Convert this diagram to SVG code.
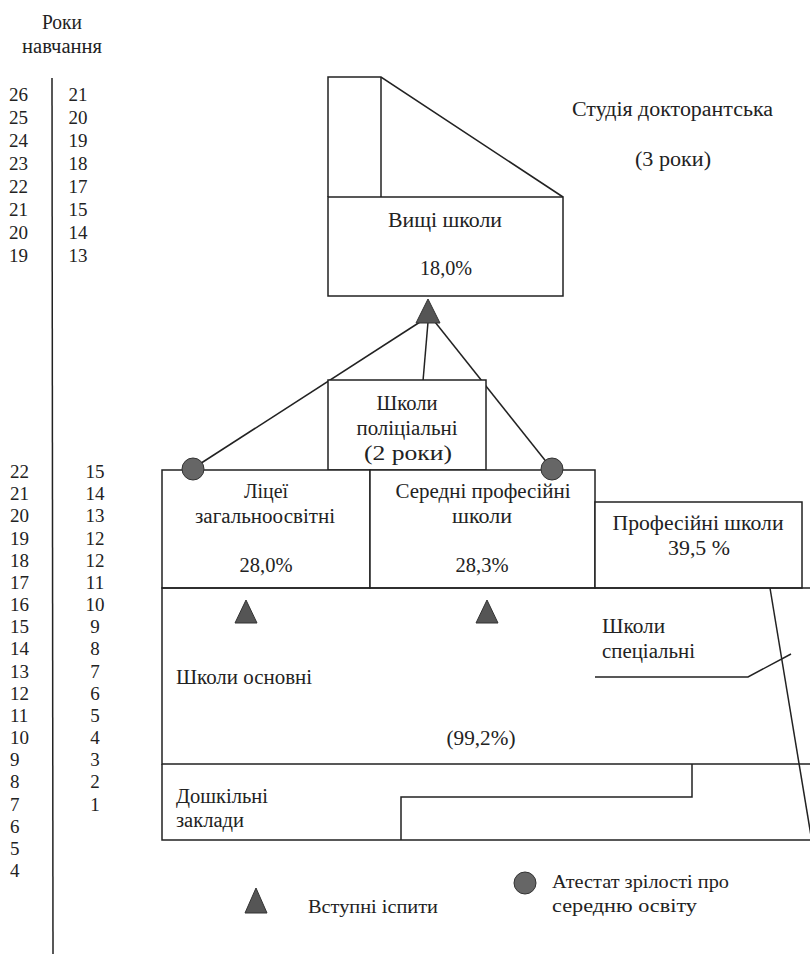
<svg xmlns="http://www.w3.org/2000/svg" width="810" height="954" viewBox="0 0 810 954" font-family="'Liberation Serif', 'Times New Roman', serif">
<style>
text{font-family:"Liberation Serif","Times New Roman",serif;fill:#222;}
.t{font-size:20px;}
.n{font-size:19px;}
.l{font-size:18px;}
.c{text-anchor:middle;}
.s{fill:none;stroke:#222;stroke-width:1.5;}
.b{fill:#fff;stroke:#222;stroke-width:1.5;}
.tri{fill:#555;stroke:#333;stroke-width:1;}
.dot{fill:#666;stroke:#333;stroke-width:1;}
</style>
<rect width="810" height="954" fill="#fff"/>

<g id="scale">
<text class="t c" x="62" y="29" textLength="40" lengthAdjust="spacingAndGlyphs">Роки</text>
<text class="t c" x="62" y="53" textLength="80" lengthAdjust="spacingAndGlyphs">навчання</text>
<line class="s" x1="52" y1="78" x2="53" y2="954"/>
<g class="n">
<text x="9" y="101">26</text><text x="9" y="124">25</text><text x="9" y="147">24</text><text x="9" y="170">23</text>
<text x="9" y="193">22</text><text x="9" y="216">21</text><text x="9" y="239">20</text><text x="9" y="262">19</text>
</g>
<g class="n c">
<text x="78" y="101">21</text><text x="78" y="124">20</text><text x="78" y="147">19</text><text x="78" y="170">18</text>
<text x="78" y="193">17</text><text x="78" y="216">15</text><text x="78" y="239">14</text><text x="78" y="262">13</text>
</g>
<g class="n">
<text x="10" y="478">22</text><text x="10" y="500">21</text><text x="10" y="522">20</text><text x="10" y="545">19</text>
<text x="10" y="567">18</text><text x="10" y="589">17</text><text x="10" y="611">16</text><text x="10" y="633">15</text>
<text x="10" y="655">14</text><text x="10" y="678">13</text><text x="10" y="700">12</text><text x="10" y="722">11</text>
<text x="10" y="744">10</text><text x="10" y="766">9</text><text x="10" y="788">8</text><text x="10" y="811">7</text>
<text x="10" y="833">6</text><text x="10" y="855">5</text><text x="10" y="877">4</text>
</g>
<g class="n c">
<text x="95" y="478">15</text><text x="95" y="500">14</text><text x="95" y="522">13</text><text x="95" y="545">12</text>
<text x="95" y="567">12</text><text x="95" y="589">11</text><text x="95" y="611">10</text><text x="95" y="633">9</text>
<text x="95" y="655">8</text><text x="95" y="678">7</text><text x="95" y="700">6</text><text x="95" y="722">5</text>
<text x="95" y="744">4</text><text x="95" y="766">3</text><text x="95" y="788">2</text><text x="95" y="811">1</text>
</g>
</g>

<g id="connectors">
<line class="s" x1="420" y1="322" x2="192" y2="469"/>
<line class="s" x1="428" y1="322" x2="423" y2="381"/>
<line class="s" x1="435" y1="322" x2="552" y2="469"/>
</g>

<g id="doctoral">
<polyline class="s" points="328,197 328,77 381,77 563,197"/>
<line class="s" x1="381" y1="77" x2="381" y2="197"/>
<text class="t" x="572" y="116" textLength="201" lengthAdjust="spacingAndGlyphs">Студія докторантська</text>
<text class="t c" x="673" y="166" textLength="76" lengthAdjust="spacingAndGlyphs">(3 роки)</text>
</g>

<g id="higher">
<rect class="b" x="328" y="197" width="235" height="99"/>
<text class="t c" x="445" y="227" textLength="114" lengthAdjust="spacingAndGlyphs">Вищі школи</text>
<text class="t c" x="446" y="275" textLength="52" lengthAdjust="spacingAndGlyphs">18,0%</text>
</g>

<g id="postsec">
<rect class="b" x="328" y="380" width="158" height="90"/>
<text class="t c" x="407" y="410" textLength="61" lengthAdjust="spacingAndGlyphs">Школи</text>
<text class="t c" x="407" y="435" textLength="101" lengthAdjust="spacingAndGlyphs">поліціальні</text>
<text class="t c" x="408" y="460" textLength="88" lengthAdjust="spacingAndGlyphs">(2 роки)</text>
</g>

<g id="lyceum">
<rect class="b" x="162" y="470" width="208" height="118"/>
<text class="t c" x="266" y="498" textLength="44" lengthAdjust="spacingAndGlyphs">Ліцеї</text>
<text class="t c" x="265" y="523" textLength="140" lengthAdjust="spacingAndGlyphs">загальноосвітні</text>
<text class="t c" x="266" y="572" textLength="53" lengthAdjust="spacingAndGlyphs">28,0%</text>
</g>

<g id="secondary-vocational">
<rect class="b" x="370" y="470" width="225" height="118"/>
<text class="t c" x="483" y="498" textLength="175" lengthAdjust="spacingAndGlyphs">Середні професійні</text>
<text class="t c" x="482" y="523" textLength="60" lengthAdjust="spacingAndGlyphs">школи</text>
<text class="t c" x="482" y="572" textLength="53" lengthAdjust="spacingAndGlyphs">28,3%</text>
</g>

<g id="vocational">
<rect class="b" x="595" y="502" width="207" height="86"/>
<text class="t c" x="698" y="530" textLength="171" lengthAdjust="spacingAndGlyphs">Професійні школи</text>
<text class="t c" x="699" y="555" textLength="62" lengthAdjust="spacingAndGlyphs">39,5 %</text>
</g>

<g id="basic">
<polyline class="s" points="812,588 162,588 162,764 812,764"/>
<text class="t" x="176" y="684" textLength="136" lengthAdjust="spacingAndGlyphs">Школи основні</text>
<text class="t c" x="481" y="745" textLength="69" lengthAdjust="spacingAndGlyphs">(99,2%)</text>
</g>

<g id="special">
<line class="s" x1="770" y1="588" x2="812" y2="842"/>
<text class="t" x="602" y="633" textLength="63" lengthAdjust="spacingAndGlyphs">Школи</text>
<text class="t" x="602" y="658" textLength="93" lengthAdjust="spacingAndGlyphs">спеціальні</text>
<polyline class="s" points="595,677 748,677 791,654"/>
</g>

<g id="preschool">
<polyline class="s" points="162,764 162,840 812,840"/>
<polyline class="s" points="401,840 401,797 692,797 692,764"/>
<text class="t" x="176" y="803" textLength="92" lengthAdjust="spacingAndGlyphs">Дошкільні</text>
<text class="t" x="176" y="827" textLength="68" lengthAdjust="spacingAndGlyphs">заклади</text>
</g>

<g id="markers">
<polygon class="tri" points="428,299 416,323 440,323"/>
<circle class="dot" cx="193" cy="469" r="11"/>
<circle class="dot" cx="552" cy="469" r="11"/>
<polygon class="tri" points="246,600 235,623 257,623"/>
<polygon class="tri" points="487,600 476,623 498,623"/>
</g>

<g id="legend">
<polygon class="tri" points="256,888 245,913 267,913"/>
<text class="l" x="308" y="913" textLength="130" lengthAdjust="spacingAndGlyphs">Вступні іспити</text>
<circle class="dot" cx="525" cy="883" r="11"/>
<text class="l" x="552" y="888" textLength="177" lengthAdjust="spacingAndGlyphs">Атестат зрілості про</text>
<text class="l" x="552" y="912" textLength="145" lengthAdjust="spacingAndGlyphs">середню освіту</text>
</g>
</svg>
